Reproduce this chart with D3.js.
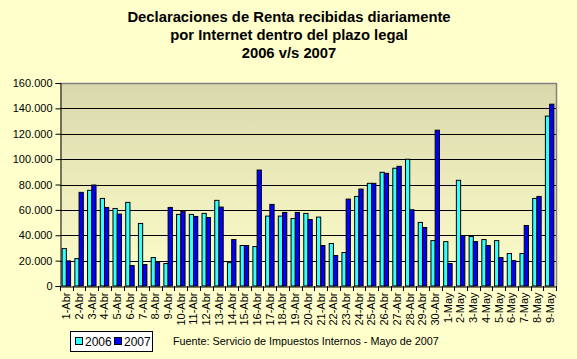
<!DOCTYPE html>
<html><head><meta charset="utf-8">
<script src="https://cdn.jsdelivr.net/npm/d3@7"></script>
<style>html,body{margin:0;padding:0;background:#FFFFCC;}svg{display:block;}text{font-family:Arial,"Liberation Sans",sans-serif;}</style>
</head><body>
<script>
const categories = ["1-Abr","2-Abr","3-Abr","4-Abr","5-Abr","6-Abr","7-Abr","8-Abr","9-Abr","10-Abr","11-Abr","12-Abr","13-Abr","14-Abr","15-Abr","16-Abr","17-Abr","18-Abr","19-Abr","20-Abr","21-Abr","22-Abr","23-Abr","24-Abr","25-Abr","26-Abr","27-Abr","28-Abr","29-Abr","30-Abr","1-May","2-May","3-May","4-May","5-May","6-May","7-May","8-May","9-May"];
const values2006 = [29500,21600,75400,69000,61100,65900,49300,22400,17700,56400,56400,57200,67500,18400,31900,31100,55100,55100,53200,57200,54300,33500,26400,70600,80900,89600,92800,99900,50100,35800,35000,83300,39000,36600,35800,25600,25600,69000,133900];
const values2007 = [19800,73800,79600,61900,56700,16100,16900,18400,61900,58800,54800,54000,62200,36600,31900,91400,64300,58000,58000,52400,31900,24000,68500,76400,80900,88800,94300,60100,46100,122800,17700,39800,35000,31900,22400,20000,47700,70600,143300];
const series = ["2006","2007"];
const yTicks = [0,20000,40000,60000,80000,100000,120000,140000,160000];
const titleLines = ["Declaraciones de Renta recibidas diariamente","por Internet dentro del plazo legal","2006 v/s 2007"];
const sourceText = "Fuente:  Servicio de Impuestos Internos - Mayo de 2007";
const colors = {"2006":"#33FFFF","2007":"#0000FF"};

const W=577,H=359;
const L=60,R=556,T=83,B=286;
const svg=d3.select("body").append("svg").attr("width",W).attr("height",H);
svg.append("rect").attr("width",W).attr("height",H).attr("fill","#FFFFCC");

const defs=svg.append("defs");
const g=defs.append("linearGradient").attr("id","pg").attr("x1",0).attr("y1",0).attr("x2",0).attr("y2",1);
g.append("stop").attr("offset","0%").attr("stop-color","#D8D8AC");
g.append("stop").attr("offset","100%").attr("stop-color","#FFFFCC");

const x=d3.scaleBand().domain(categories).range([L,R]).padding(0);
const xs=d3.scaleBand().domain(series).range([x.bandwidth()/6,x.bandwidth()*5/6]).padding(0);
const y=d3.scaleLinear().domain([0,160000]).range([B,T]);

svg.append("rect").attr("x",L).attr("y",T).attr("width",R-L).attr("height",B-T).attr("fill","url(#pg)");
// gridlines
svg.append("g").selectAll("line").data(yTicks.filter(d=>d>0&&d<160000)).join("line")
 .attr("x1",L).attr("x2",R).attr("y1",d=>Math.round(y(d))+0.5).attr("y2",d=>Math.round(y(d))+0.5)
 .attr("stroke","#000").attr("stroke-width",1.2);
// border top/right
svg.append("path").attr("d",`M${L},${T+0.5}H${R+0.5}V${B}`).attr("fill","none").attr("stroke","#808080").attr("stroke-width",1.5);

// bars
const rows=categories.map((c,i)=>({c,v:{"2006":values2006[i],"2007":values2007[i]}}));
svg.append("g").selectAll("g").data(rows).join("g").attr("transform",d=>`translate(${x(d.c)},0)`)
 .selectAll("rect").data(d=>series.map(s=>({s,v:d.v[s]}))).join("rect")
 .attr("x",d=>xs(d.s)).attr("width",xs.bandwidth()).attr("y",d=>y(d.v)).attr("height",d=>B-y(d.v))
 .attr("fill",d=>colors[d.s]).attr("stroke","#000").attr("stroke-width",1);

// y axis
const ya=svg.append("g").attr("transform",`translate(${L+0.5},0)`)
 .call(d3.axisLeft(y).tickValues(yTicks).tickSize(5).tickPadding(3).tickFormat(d=>d===0?"0":d3.format(",")(d).replace(/,/g,".")));
ya.select(".domain").attr("stroke","#000");
ya.selectAll("text").attr("font-size",11).attr("fill","#000").style("font-family","Arial,'Liberation Sans',sans-serif");

// x axis
const xa=svg.append("g").attr("transform",`translate(0,${B+0.5})`)
 .call(d3.axisBottom(x).tickSize(0).tickPadding(0));
xa.select(".domain").attr("stroke","#000");
xa.selectAll(".tick text").attr("font-size",11).attr("fill","#000")
 .attr("transform","rotate(-90)").attr("text-anchor","end").attr("x",-6).attr("y",0).attr("dy","0.35em")
 .style("font-family","Arial,'Liberation Sans',sans-serif");
svg.append("g").selectAll("line").data(categories.concat(["__end"])).join("line")
 .attr("x1",(d,i)=>Math.round(L+i*x.step())+0.5).attr("x2",(d,i)=>Math.round(L+i*x.step())+0.5)
 .attr("y1",B).attr("y2",B+5).attr("stroke","#000");

// title
svg.append("g").selectAll("text").data(titleLines).join("text")
 .attr("x",289).attr("y",(d,i)=>22+i*18).attr("text-anchor","middle")
 .attr("font-size",14.8).attr("font-weight","bold").attr("fill","#000").text(d=>d);

// legend
const lg=svg.append("g");
lg.append("rect").attr("x",70.5).attr("y",331.5).attr("width",82).attr("height",20).attr("fill","#FFFFFF").attr("stroke","#000");
series.forEach((s,i)=>{
  const ox=75+i*39;
  lg.append("rect").attr("x",ox+0.5).attr("y",337.5).attr("width",7).attr("height",7).attr("fill",colors[s]).attr("stroke","#000");
  lg.append("text").attr("x",ox+10).attr("y",345.5).attr("font-size",12).attr("fill","#000").text(s);
});
svg.append("text").attr("x",173).attr("y",345).attr("font-size",10.8).attr("fill","#000").text(sourceText);
</script>
</body></html>
